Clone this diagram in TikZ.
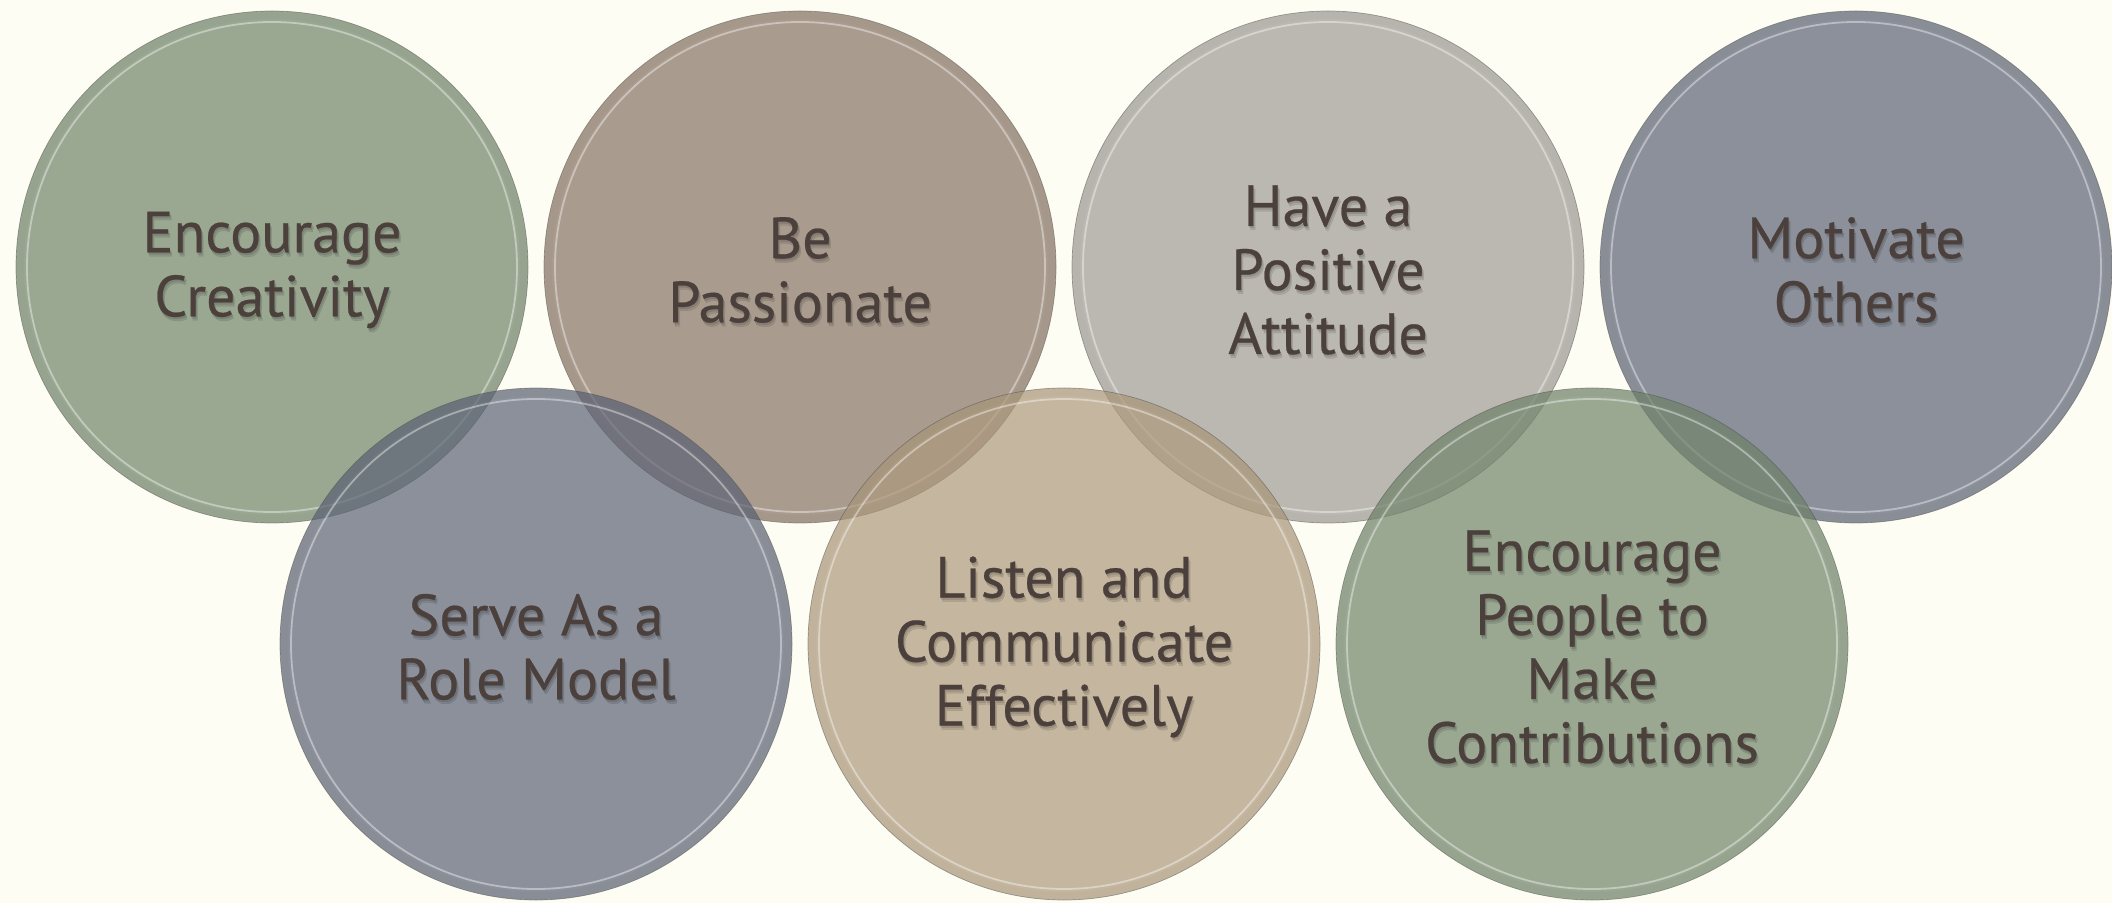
\documentclass[tikz,border=0pt]{standalone}
\usepackage{fontspec}
\setmainfont[FakeBold=0.4]{PT Sans}
\usetikzlibrary{positioning}
\definecolor{paper}{RGB}{253,253,243}
\definecolor{sage}{RGB}{112,132,106}
\definecolor{taupe}{RGB}{134,116,100}
\definecolor{pebble}{RGB}{159,156,149}
\definecolor{slate}{RGB}{92,99,117}
\definecolor{sand}{RGB}{173,153,124}
\definecolor{ink}{RGB}{75,64,60}

\tikzset{
  bubble/.style={circle,minimum size=512pt,inner sep=0pt,fill opacity=0.7,draw=black!70,draw opacity=0.5,line width=0.7pt},
  rim/.style={white,draw opacity=0.4,line width=1.8pt},
  band/.style={black,draw opacity=0.02,line width=7pt},
  caption/.style={align=center,text=ink,font=\fontsize{58}{64}\selectfont},
  glow/.style={caption,text=black,text opacity=0.1}
}

\begin{document}
\begin{tikzpicture}[x=1pt,y=1pt]
  \fill[paper] (0,0) rectangle (2112,903);
  \useasboundingbox (0,0) rectangle (2112,903);
  \foreach \n/\x/\y/\c/\t in {creativity/272/636/sage/{Encourage\\Creativity},
      passion/800/636/taupe/{Be\\Passionate},
      attitude/1328/636/pebble/{Have a\\Positive\\Attitude},
      motivate/1856/636/slate/{Motivate\\Others},
      rolemodel/536/259/slate/{Serve As a\\Role Model},
      listen/1064/259/sand/{Listen and\\Communicate\\Effectively},
      contrib/1592/259/sage/{Encourage\\People to\\Make\\Contributions}} {
    \node[bubble,fill=\c] (\n) at (\x,\y) {};
    \draw[band] (\n.center) circle (251.5);
    \draw[rim] (\n.center) circle (245);
    \node[glow] (\n-s) at ([shift={(2,-7)}]\n.center) {\t};
    \node[glow] (\n-r) at ([shift={(1,-5)}]\n.center) {\t};
    \node[caption] (\n-t) at ([yshift=-3]\n.center) {\t};
  }
\end{tikzpicture}
\end{document}
